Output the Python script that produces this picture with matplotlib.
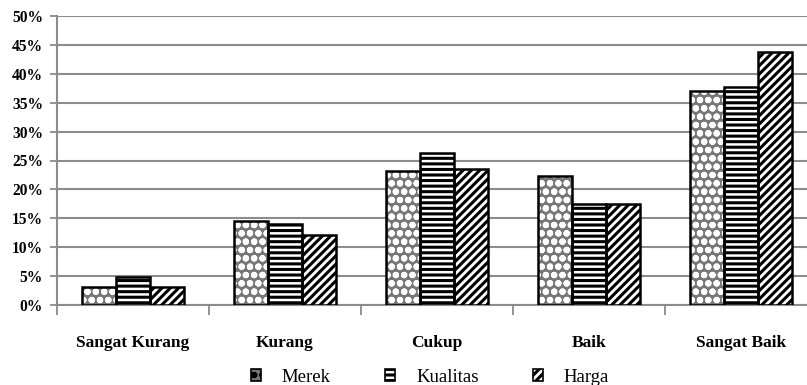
import numpy as np
import matplotlib
matplotlib.use("Agg")
import matplotlib.pyplot as plt
from matplotlib.patches import Patch

plt.rcParams['font.family'] = ['Liberation Serif', 'DejaVu Serif']
plt.rcParams['hatch.linewidth'] = 2.2

categories = ['Sangat Kurang', 'Kurang', 'Cukup', 'Baik', 'Sangat Baik']
merek = [3.1, 14.5, 23.1, 22.4, 37.0]
kualitas = [4.8, 14.1, 26.3, 17.4, 37.7]
harga = [3.1, 12.1, 23.6, 17.5, 43.8]
series_names = ['Merek', 'Kualitas', 'Harga']

# face colour, hatch, hatch colour for each series
styles = [
    ('#777777', 'oo', 'white'),
    ('white', '---', 'black'),
    ('white', '////', 'black'),
]

fig = plt.figure(figsize=(8.07, 3.85), dpi=100)
# axes runs a little past the right edge of the figure
ax = fig.add_axes([57 / 807, 1 - 305 / 385, 760 / 807, 289 / 385])

x = np.arange(len(categories))
w = 0.224
for i, vals in enumerate([merek, kualitas, harga]):
    fc, h, hc = styles[i]
    ax.bar(x + (i - 1) * w, vals, width=w, facecolor=fc, hatch=h,
           edgecolor=hc, linewidth=0, zorder=3)
    ax.bar(x + (i - 1) * w, vals, width=w, fill=False, edgecolor='black',
           linewidth=1.8, zorder=4)

ax.set_xlim(-0.5, len(categories) - 0.5)
ax.set_ylim(0, 50)
ax.set_yticks(np.arange(0, 51, 5))
ax.set_yticklabels([f'{v}%' for v in range(0, 51, 5)], fontsize=11.2, fontweight='bold')
ax.yaxis.grid(True, color='#8c8c8c', linewidth=1.5, zorder=0)

ax.set_xticks(np.arange(len(categories) + 1) - 0.5)
ax.set_xticklabels([])
ax.tick_params(axis='x', length=7, width=1.3, color='#8c8c8c')
ax.tick_params(axis='y', length=5, width=1.3, color='#8c8c8c', pad=5)
for i, c in enumerate(categories):
    ax.text(i, -6.6, c, ha='center', va='center', fontsize=12.5, fontweight='bold')

for s in ['top', 'right']:
    ax.spines[s].set_visible(False)
for s in ['left', 'bottom']:
    ax.spines[s].set_color('#8c8c8c')
    ax.spines[s].set_linewidth(1.5)

handles = [Patch(facecolor=fc, hatch=h, edgecolor='black', linewidth=1.2, label=n)
           for (fc, h, hc), n in zip(styles, series_names)]
fig.legend(handles=handles, loc='center', bbox_to_anchor=(430 / 807, 1 - 377 / 385),
           ncol=3, frameon=False, fontsize=13.5, handlelength=0.55, handleheight=0.55,
           columnspacing=2.9, handletextpad=1.1)

fig.savefig('out.png', dpi=100)
